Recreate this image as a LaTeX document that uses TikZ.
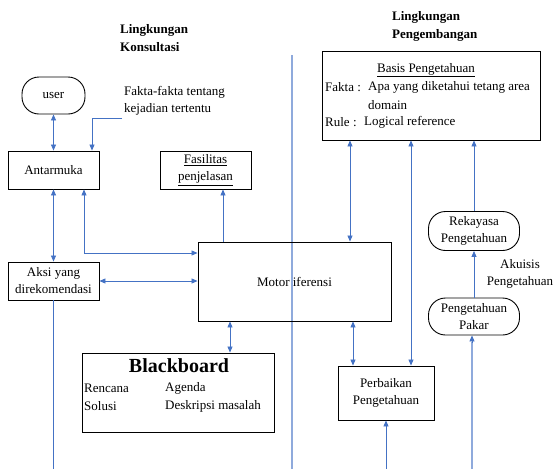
\documentclass[tikz,border=0pt]{standalone}
\usepackage{fontspec}
\setmainfont{Liberation Serif}
\usetikzlibrary{arrows.meta,calc}
\definecolor{arrblue}{HTML}{4472C4}
\definecolor{lightblue}{HTML}{8FAADC}
\tikzset{
  box/.style={draw,line width=0.9pt,inner sep=0pt,align=center},
  pill/.style={box,rounded corners=17pt},
  lbl/.style={inner sep=0pt,align=left},
  arr/.style={arrblue,line width=0.8pt,-{Triangle[length=6pt,width=5pt]}},
  dbl/.style={arrblue,line width=0.8pt,{Triangle[length=6pt,width=5pt]}-{Triangle[length=6pt,width=5pt]}},
  light/.style={lightblue,line width=1.8pt}
}

\begin{document}
\begin{tikzpicture}[x=1pt,y=-1pt,font=\fontsize{13}{17}\selectfont,>=Stealth]
  \useasboundingbox (0,0) rectangle (555,469);
  % divider between the two environments
  \draw[light] (292,55) -- (292,469);
  % headings
  \node[lbl,font=\fontsize{13}{18}\selectfont\bfseries,anchor=north west] (hkons) at (120,24) {Lingkungan\\Konsultasi};
  \node[lbl,font=\fontsize{13}{18}\selectfont\bfseries,anchor=north west] (hpeng) at (392,11) {Lingkungan\\Pengembangan};
  % consultation side
  \node[pill,minimum width=63pt,minimum height=37pt] (user) at (53.5,95.5) {user};
  \node[lbl,anchor=north west] (fakta) at (124,86) {Fakta-fakta tentang\\kejadian tertentu};
  \node[box,minimum width=91pt,minimum height=38pt] (antarmuka) at (53.5,170) {Antarmuka};
  \node[box,minimum width=91pt,minimum height=38pt] (fasil) at (205.5,170) {\underline{Fasilitas}\\\underline{penjelasan}};
  \node[box,minimum width=91pt,minimum height=38pt] (aksi) at (53.5,281) {Aksi yang\\direkomendasi};
  \node[box,minimum width=193pt,minimum height=79pt] (motor) at (294.5,281.5) {Motor iferensi};
  % blackboard
  \node[box,minimum width=192pt,minimum height=79pt] (bb) at (178,392.5) {};
  \node[font=\fontsize{20}{22}\selectfont\bfseries,inner sep=0pt] (bbtitle) at (179,366) {Blackboard};
  \node[lbl,anchor=west] (rencana) at (84,388) {Rencana};
  \node[lbl,anchor=west] (agenda) at (165,388) {Agenda};
  \node[lbl,anchor=west] (solusi) at (84,406) {Solusi};
  \node[lbl,anchor=west] (deskripsi) at (165,406) {Deskripsi masalah};
  % development side
  \node[box,minimum width=218pt,minimum height=89pt] (basis) at (431,95.5) {};
  \node[inner sep=0pt] (basistitle) at (426,70) {\underline{Basis Pengetahuan}};
  \node[lbl,anchor=west] (faktalbl) at (325,87) {Fakta :};
  \node[lbl,anchor=west] (faktatxt) at (368,87) {Apa yang diketahui tetang area};
  \node[lbl,anchor=west] (domain) at (368,105) {domain};
  \node[lbl,anchor=west] (rulelbl) at (325,122) {Rule :};
  \node[lbl,anchor=west] (ruletxt) at (364,122) {Logical reference};
  \node[pill,minimum width=91pt,minimum height=39pt] (rekayasa) at (474,231) {Rekayasa\\Pengetahuan};
  \node[pill,minimum width=91pt,minimum height=37pt] (pakar) at (474,316.5) {Pengetahuan\\Pakar};
  \node[inner sep=0pt,align=center] (akuisisi) at (520,274) {Akuisis\\Pengetahuan};
  \node[box,minimum width=96pt,minimum height=54pt] (perbaikan) at (386,393) {Perbaikan\\Pengetahuan};
  % connectors, consultation side
  \draw[dbl] (user) -- (antarmuka);
  \coordinate (fk) at (122,118);
  \draw[arr] (fk) -| ([xshift=38.5pt]antarmuka.north);
  \draw[dbl] (antarmuka) -- (aksi);
  \draw[dbl] ([xshift=30.5pt]antarmuka.south) |- ([yshift=28.5pt]motor.west);
  \draw[dbl] (aksi.east) -- (aksi.east -| motor.west);
  \draw[arr] ([xshift=-71.5pt]motor.north) -- ([xshift=17.5pt]fasil.south);
  \draw[dbl] ([xshift=-64.5pt]motor.south) -- ([xshift=52pt]bb.north);
  \coordinate (aksiend) at (53.5,469);
  \draw[arrblue,line width=0.8pt] (aksi.south) -- (aksiend);
  % connectors, development side
  \draw[dbl] ([xshift=-81pt]basis.south) -- ([xshift=55.5pt]motor.north);
  \draw[dbl] ([xshift=-20pt]basis.south) -- ([xshift=25pt]perbaikan.north);
  \draw[arr] (rekayasa.north) -- (rekayasa.north |- basis.south);
  \draw[arr] (pakar.north) -- (rekayasa.south);
  \draw[dbl] ([xshift=58.5pt]motor.south) -- ([xshift=-33pt]perbaikan.north);
  \coordinate (perbend) at (386,469);
  \draw[arr] (perbend) -- (perbaikan.south);
  \coordinate (pakarend) at (472,469);
  \draw[light] (pakarend) -- ([xshift=-2pt,yshift=-7pt]pakar.south);
  \draw[arr] ([xshift=-2pt,yshift=-8pt]pakar.south) -- ([xshift=-2pt]pakar.south);
\end{tikzpicture}
\end{document}
